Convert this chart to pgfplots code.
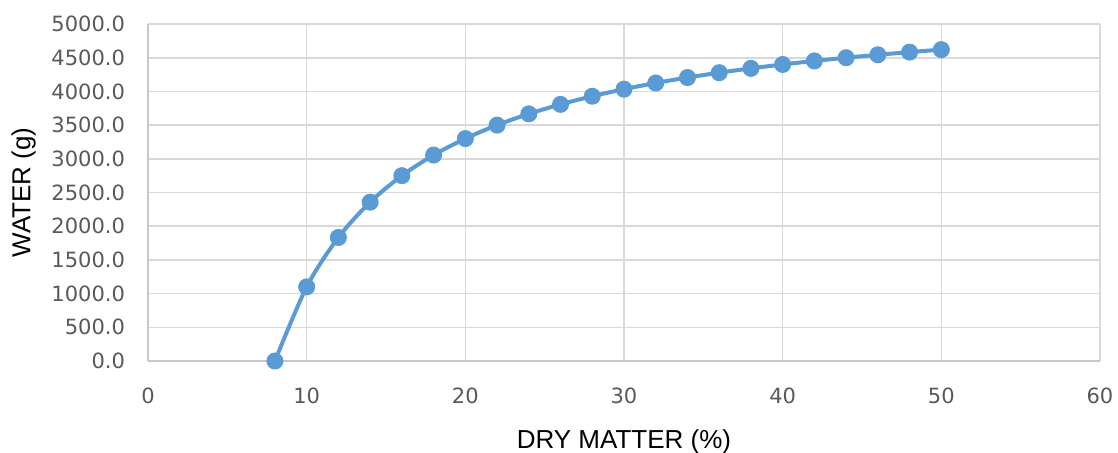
\documentclass[border=0pt]{standalone}
\usepackage{fontspec}
\setmainfont{DejaVu Sans}
\newfontfamily\labelfont{Liberation Sans}
\usepackage{pgfplots}
\pgfplotsset{compat=1.18}
\definecolor{serieblue}{RGB}{91,155,213}
\definecolor{gridgray}{RGB}{217,217,217}
\definecolor{ticktext}{RGB}{89,89,89}
\begin{document}
\begin{tikzpicture}
  \begin{axis}[%
      name=main,
      at={(0,0)}, anchor=south west,
      scale only axis,
      width=476pt, height=168.5pt,
      xmin=0, xmax=60, ymin=0, ymax=5000,
      xtick={0,10,...,60},
      ytick={0,500,...,5000},
      grid=major,
      major grid style={gridgray, line width=0.8pt},
      axis line style={gridgray!80!gray, line width=0.8pt},
      axis lines*=left,
      tick style={draw=none},
      tick label style={font=\fontsize{10.5}{12}\selectfont, text=ticktext},
      /pgf/number format/assume math mode=true,
      yticklabel style={/pgf/number format/.cd, fixed, fixed zerofill, precision=1, 1000 sep={}},
      xticklabel style={/pgf/number format/.cd, fixed, precision=0},
      yticklabel shift=8pt,
      xticklabel shift=10pt,
      label style={font=\labelfont\fontsize{13}{15}\selectfont, text=black},
      xlabel={DRY MATTER (\%)},
      ylabel={WATER (g)},
      xlabel style={yshift=-6pt},
      ylabel style={yshift=1pt},
    ]
    \addplot[serieblue, line width=2pt, smooth, tension=0.5,
             mark=*, mark size=4pt, mark options={fill=serieblue, draw=serieblue, line width=0.5pt}]
      coordinates {
        (8, 0)
        (10, 1100.0)
        (12, 1833.3)
        (14, 2357.1)
        (16, 2750.0)
        (18, 3055.6)
        (20, 3300.0)
        (22, 3500.0)
        (24, 3666.7)
        (26, 3807.7)
        (28, 3928.6)
        (30, 4033.3)
        (32, 4125.0)
        (34, 4205.9)
        (36, 4277.8)
        (38, 4342.1)
        (40, 4400.0)
        (42, 4452.4)
        (44, 4500.0)
        (46, 4543.5)
        (48, 4583.3)
        (50, 4620.0)
      };
  \end{axis}
  \pgfresetboundingbox
  \path (-74pt,-45.5pt) rectangle (485pt,180.5pt);
\end{tikzpicture}
\end{document}
